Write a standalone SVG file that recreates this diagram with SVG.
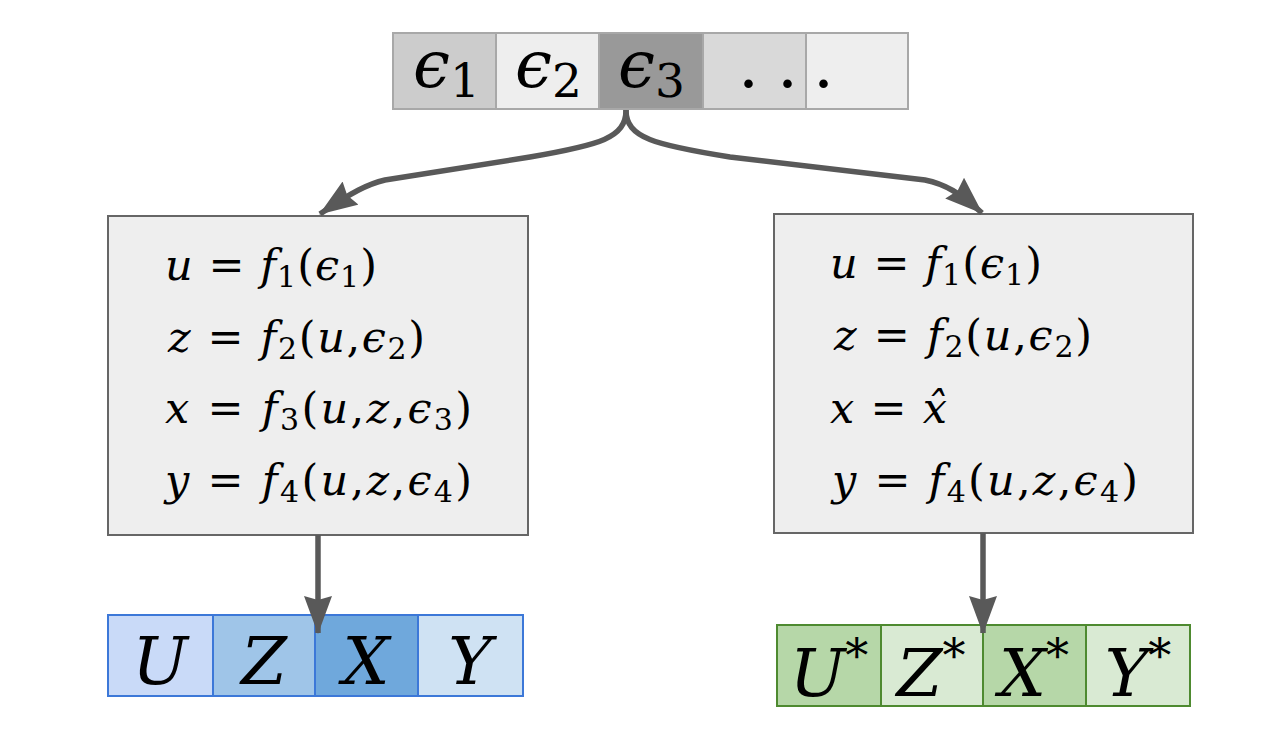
<svg xmlns="http://www.w3.org/2000/svg" width="1276" height="738" viewBox="0 0 1276 738" font-family="'DejaVu Serif', 'Liberation Serif', serif">
<style>
  text { fill: #000; }
  .i { font-style: italic; }
  .eq { font-size: 43px; }
  .sub { font-size: 30px; }
  .top { font-size: 66px; }
  .tsub { font-size: 47px; }
  .big { font-size: 66px; font-style: italic; }
  .ast { font-size: 46px; font-style: normal; }
  .gcell { stroke: #a8a8a8; stroke-width: 2; }
  .box { fill: #eeeeee; stroke: #666666; stroke-width: 2; }
  .bcell { stroke: #3c78d8; stroke-width: 2; }
  .ncell { stroke: #4e8a30; stroke-width: 2; }
  .conn { fill: none; stroke: #595959; stroke-width: 5.5; }
</style>
<defs>
  <marker id="arr" markerUnits="userSpaceOnUse" viewBox="0 0 38 28" refX="37" refY="14" markerWidth="38" markerHeight="28" orient="auto">
    <path d="M0,0 L38,14 L0,28 L4,14 z" fill="#595959"/>
  </marker>
</defs>
<rect width="1276" height="738" fill="#ffffff"/>

<g id="eps-bar">
  <rect class="gcell" x="393" y="33" width="103" height="76" fill="#cccccc"/>
  <rect class="gcell" x="496" y="33" width="103" height="76" fill="#eeeeee"/>
  <rect class="gcell" x="599" y="33" width="104" height="76" fill="#999999"/>
  <rect class="gcell" x="703" y="33" width="103" height="76" fill="#d9d9d9"/>
  <rect class="gcell" x="806" y="33" width="102" height="76" fill="#eeeeee"/>
  <text class="top" x="413" y="87"><tspan class="i">ϵ</tspan><tspan class="tsub" dy="10">1</tspan></text>
  <text class="top" x="515" y="87"><tspan class="i">ϵ</tspan><tspan class="tsub" dy="10">2</tspan></text>
  <text class="top" x="618" y="87"><tspan class="i">ϵ</tspan><tspan class="tsub" dy="10">3</tspan></text>
  <text class="top" x="738 777 813" y="87">...</text>
</g>

<g id="box-left">
  <rect class="box" x="108" y="216" width="420" height="319"/>
  <text class="eq" x="165" y="280" textLength="212" lengthAdjust="spacing"><tspan class="i">u</tspan> = <tspan class="i">f</tspan><tspan class="sub" dy="7">1</tspan><tspan dy="-7">(</tspan><tspan class="i">ϵ</tspan><tspan class="sub" dy="7">1</tspan><tspan dy="-7">)</tspan></text>
  <text class="eq" x="168" y="352" textLength="257" lengthAdjust="spacing"><tspan class="i">z</tspan> = <tspan class="i">f</tspan><tspan class="sub" dy="7">2</tspan><tspan dy="-7">(</tspan><tspan class="i">u</tspan>,<tspan class="i">ϵ</tspan><tspan class="sub" dy="7">2</tspan><tspan dy="-7">)</tspan></text>
  <text class="eq" x="165" y="423" textLength="307" lengthAdjust="spacing"><tspan class="i">x</tspan> = <tspan class="i">f</tspan><tspan class="sub" dy="7">3</tspan><tspan dy="-7">(</tspan><tspan class="i">u</tspan>,<tspan class="i">z</tspan>,<tspan class="i">ϵ</tspan><tspan class="sub" dy="7">3</tspan><tspan dy="-7">)</tspan></text>
  <text class="eq" x="165" y="495" textLength="307" lengthAdjust="spacing"><tspan class="i">y</tspan> = <tspan class="i">f</tspan><tspan class="sub" dy="7">4</tspan><tspan dy="-7">(</tspan><tspan class="i">u</tspan>,<tspan class="i">z</tspan>,<tspan class="i">ϵ</tspan><tspan class="sub" dy="7">4</tspan><tspan dy="-7">)</tspan></text>
</g>

<g id="box-right">
  <rect class="box" x="774" y="214" width="419" height="319"/>
  <text class="eq" x="830" y="278" textLength="212" lengthAdjust="spacing"><tspan class="i">u</tspan> = <tspan class="i">f</tspan><tspan class="sub" dy="7">1</tspan><tspan dy="-7">(</tspan><tspan class="i">ϵ</tspan><tspan class="sub" dy="7">1</tspan><tspan dy="-7">)</tspan></text>
  <text class="eq" x="834" y="350" textLength="258" lengthAdjust="spacing"><tspan class="i">z</tspan> = <tspan class="i">f</tspan><tspan class="sub" dy="7">2</tspan><tspan dy="-7">(</tspan><tspan class="i">u</tspan>,<tspan class="i">ϵ</tspan><tspan class="sub" dy="7">2</tspan><tspan dy="-7">)</tspan></text>
  <text class="eq" x="830" y="423" textLength="117" lengthAdjust="spacing"><tspan class="i">x</tspan> = <tspan class="i">x̂</tspan></text>
  <text class="eq" x="832" y="495" textLength="306" lengthAdjust="spacing"><tspan class="i">y</tspan> = <tspan class="i">f</tspan><tspan class="sub" dy="7">4</tspan><tspan dy="-7">(</tspan><tspan class="i">u</tspan>,<tspan class="i">z</tspan>,<tspan class="i">ϵ</tspan><tspan class="sub" dy="7">4</tspan><tspan dy="-7">)</tspan></text>
</g>

<g id="obs-vars">
  <rect class="bcell" x="108" y="615" width="105" height="81" fill="#c9daf8"/>
  <rect class="bcell" x="213" y="615" width="102" height="81" fill="#9fc5e8"/>
  <rect class="bcell" x="315" y="615" width="103" height="81" fill="#6fa8dc"/>
  <rect class="bcell" x="418" y="615" width="105" height="81" fill="#cfe2f3"/>
  <text class="big" x="160" y="684" text-anchor="middle">U</text>
  <text class="big" x="264" y="684" text-anchor="middle">Z</text>
  <text class="big" x="366" y="684" text-anchor="middle">X</text>
  <text class="big" x="470" y="684" text-anchor="middle">Y</text>
</g>

<g id="cf-vars">
  <rect class="ncell" x="777" y="625" width="104" height="81" fill="#b6d7a8"/>
  <rect class="ncell" x="881" y="625" width="102" height="81" fill="#d9ead3"/>
  <rect class="ncell" x="983" y="625" width="103" height="81" fill="#b6d7a8"/>
  <rect class="ncell" x="1086" y="625" width="104" height="81" fill="#d9ead3"/>
  <text class="big" x="829" y="696" text-anchor="middle">U<tspan class="ast" dy="-24">*</tspan></text>
  <text class="big" x="931" y="696" text-anchor="middle">Z<tspan class="ast" dy="-24">*</tspan></text>
  <text class="big" x="1034" y="696" text-anchor="middle">X<tspan class="ast" dy="-24">*</tspan></text>
  <text class="big" x="1138" y="696" text-anchor="middle">Y<tspan class="ast" dy="-24">*</tspan></text>
</g>

<g id="connectors">
  <path class="conn" d="M626,110 C626,138 600,145 530,157 L385,180 C368,184 352,192 320,214" marker-end="url(#arr)"/>
  <path class="conn" d="M626,110 C626,138 655,145 730,157 L925,180 C945,184 960,193 982,213" marker-end="url(#arr)"/>
  <path class="conn" d="M318,535 L318,633" marker-end="url(#arr)"/>
  <path class="conn" d="M983,533 L983,633" marker-end="url(#arr)"/>
</g>
</svg>
